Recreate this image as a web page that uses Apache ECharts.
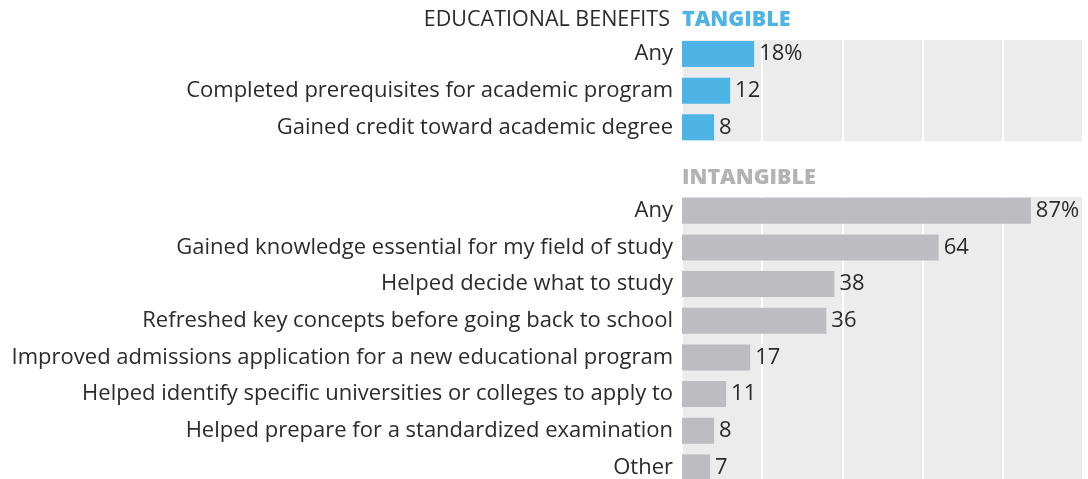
<!DOCTYPE html>
<html>
<head>
<meta charset="utf-8">
<script src="https://cdn.jsdelivr.net/npm/echarts@6/dist/echarts.min.js"></script>
<style>
  html, body { margin: 0; padding: 0; background: #ffffff; overflow: hidden; }
  #chart { width: 1088px; height: 500px; }
</style>
</head>
<body>
<div id="chart"></div>
<script>
const headerMain = 'EDUCATIONAL BENEFITS';
const headerTangible = 'TANGIBLE';
const headerIntangible = 'INTANGIBLE';

const tangibleCats = [
  'Any',
  'Completed prerequisites for academic program',
  'Gained credit toward academic degree'
];
const tangibleVals = [18, 12, 8];

const intangibleCats = [
  'Any',
  'Gained knowledge essential for my field of study',
  'Helped decide what to study',
  'Refreshed key concepts before going back to school',
  'Improved admissions application for a new educational program',
  'Helped identify specific universities or colleges to apply to',
  'Helped prepare for a standardized examination',
  'Other'
];
const intangibleVals = [87, 64, 38, 36, 17, 11, 8, 7];

const xTicks = [0, 20, 40, 60, 80, 100];

const FONT = '"Open Sans"';
const FS = 22;
const BAR = 26;
const BLUE = '#4eb4e6';
const GREY = '#bdbdc1';
const PANEL = '#ececec';

const chart = echarts.init(document.getElementById('chart'), null, { renderer: 'canvas' });

function xAxis(i) {
  return {
    gridIndex: i, type: 'value', min: xTicks[0], max: xTicks[xTicks.length - 1], interval: 20,
    axisLabel: { show: false }, axisLine: { show: false }, axisTick: { show: false },
    splitLine: { show: true, lineStyle: { color: '#ffffff', width: 2 } }
  };
}
function yAxis(i, cats) {
  return {
    gridIndex: i, type: 'category', data: cats, inverse: true,
    axisLine: { show: false }, axisTick: { show: false }, splitLine: { show: false },
    axisLabel: { color: '#2b2b2b', fontSize: FS, fontFamily: FONT, margin: 9 }
  };
}
function series(i, vals, color) {
  return {
    type: 'bar', xAxisIndex: i, yAxisIndex: i, data: vals, barWidth: BAR,
    itemStyle: { color: color }, z: 3, animation: false,
    label: {
      show: true, position: 'right', distance: 5, color: '#2b2b2b', fontSize: FS, fontFamily: FONT,
      formatter: p => p.dataIndex === 0 ? p.value + '%' : String(p.value)
    }
  };
}

const option = {
  animation: false,
  backgroundColor: '#ffffff',
  grid: [
    { left: 682, right: 5, top: 35.7, height: 110, containLabel: false },
    { left: 682, right: 5, top: 192.4, height: 293.3, containLabel: false }
  ],
  xAxis: [xAxis(0), xAxis(1)],
  yAxis: [yAxis(0, tangibleCats), yAxis(1, intangibleCats)],
  series: [series(0, tangibleVals, BLUE), series(1, intangibleVals, GREY)],
  graphic: [
    { id: 'h1', type: 'text', x: 670, y: 20, style: { text: headerMain, textAlign: 'right', textVerticalAlign: 'middle', fill: '#2b2b2b', font: '21.5px ' + FONT } },
    { id: 'h2', type: 'text', x: 682, y: 20, style: { text: headerTangible, textAlign: 'left', textVerticalAlign: 'middle', fill: BLUE, font: '800 21.5px ' + FONT } },
    { id: 'h3', type: 'text', x: 682, y: 178, style: { text: headerIntangible, textAlign: 'left', textVerticalAlign: 'middle', fill: '#b3b3b6', font: '800 21.5px ' + FONT } }
  ]
};
chart.setOption(option);

function panelRect(id, gi, cats) {
  const p0 = chart.convertToPixel({ gridIndex: gi }, [xTicks[0], cats[0]]);
  const p1 = chart.convertToPixel({ gridIndex: gi }, [xTicks[xTicks.length - 1], cats[cats.length - 1]]);
  return {
    id: id, type: 'rect', z: -10, silent: true,
    shape: { x: p0[0], y: p0[1] - BAR / 2 - 1, width: p1[0] - p0[0], height: p1[1] - p0[1] + BAR + 2 },
    style: { fill: PANEL }
  };
}
chart.setOption({ graphic: [panelRect('p1', 0, tangibleCats), panelRect('p2', 1, intangibleCats)] });
</script>
</body>
</html>
